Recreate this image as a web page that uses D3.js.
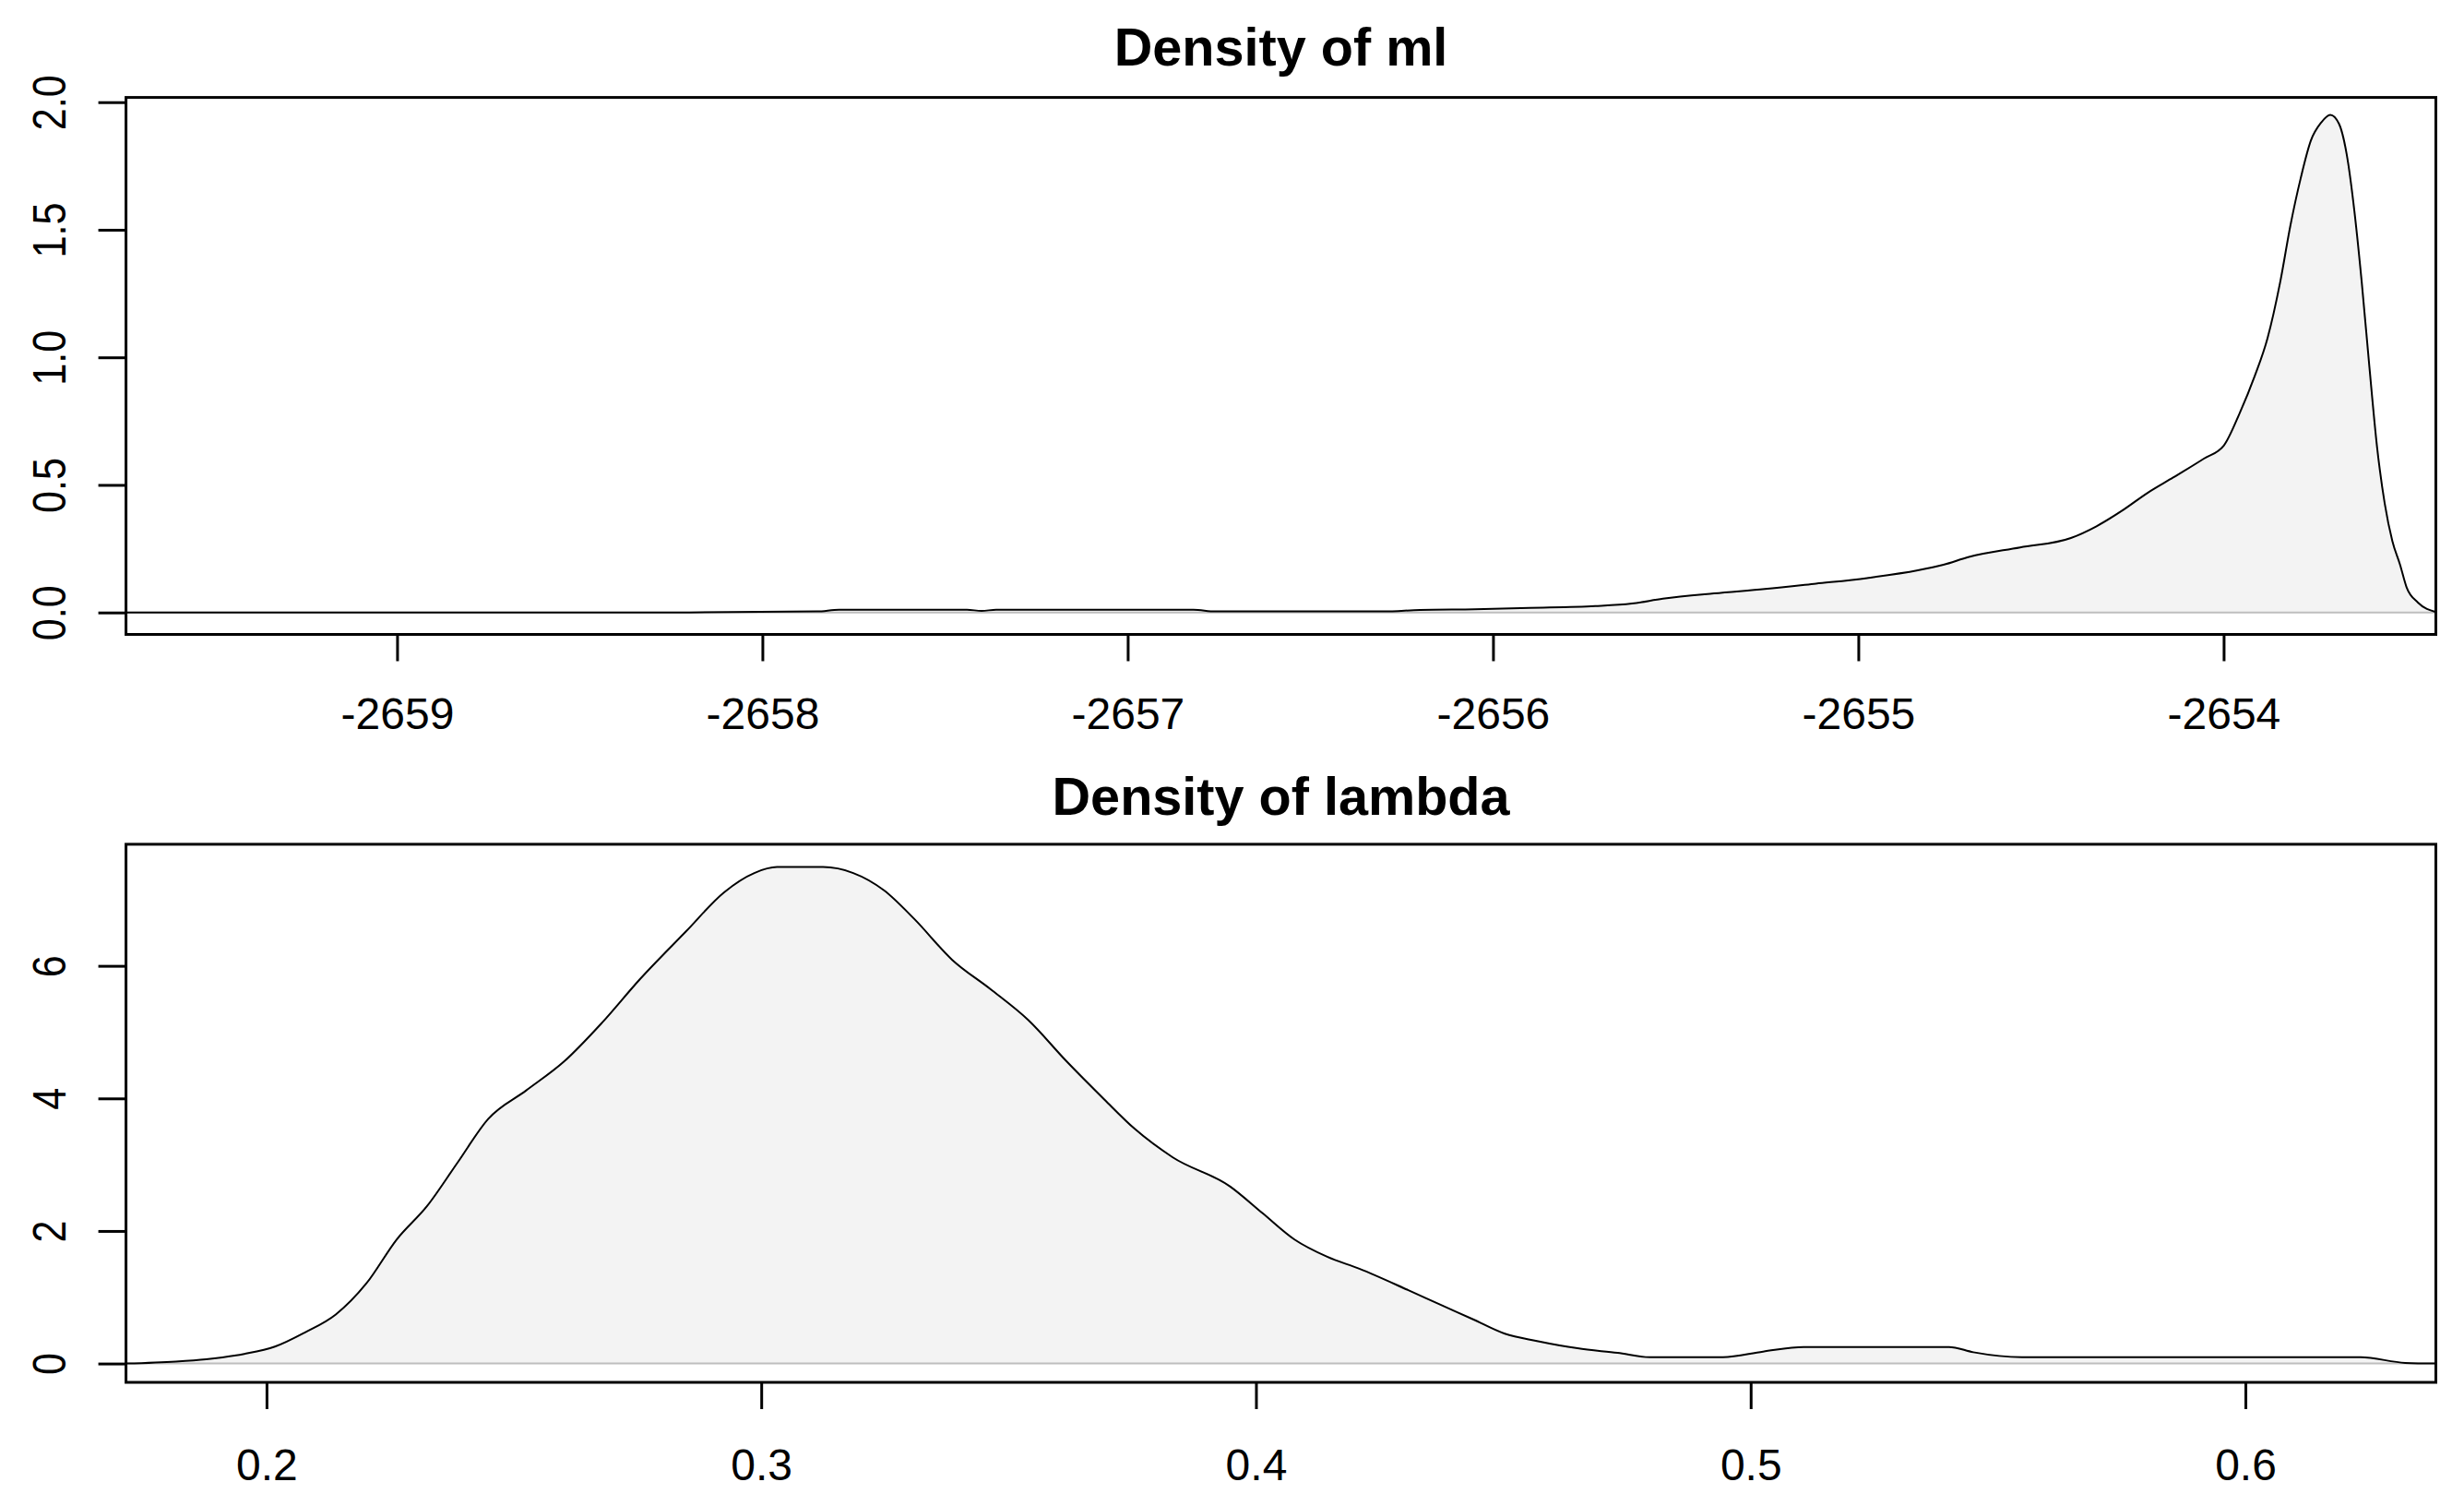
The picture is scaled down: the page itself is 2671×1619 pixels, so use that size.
<!DOCTYPE html>
<html>
<head>
<meta charset="utf-8">
<script src="https://cdn.jsdelivr.net/npm/d3@7.9.0/dist/d3.min.js"></script>
<style>
  body { margin: 0; background: #fff; }
  svg text { font-family: "Liberation Sans", Arial, sans-serif; fill: #000; }
</style>
</head>
<body>
<svg id="chart" width="2671" height="1619"></svg>
<script>
// density of ml
const mlX = [-2659.742, -2658.2, -2657.85, -2657.79, -2657.44, -2657.40, -2657.36, -2656.82, -2656.76,
  -2656.3, -2656.2, -2656.05, -2655.9, -2655.72, -2655.62, -2655.535, -2655.395, -2655.256, -2655.116,
  -2654.976, -2654.837, -2654.767, -2654.697, -2654.557, -2654.418, -2654.348, -2654.278, -2654.208,
  -2654.138, -2654.054, -2653.999, -2653.957, -2653.915, -2653.880, -2653.845, -2653.817, -2653.789,
  -2653.761, -2653.733, -2653.708, -2653.684, -2653.663, -2653.642, -2653.622, -2653.601, -2653.580,
  -2653.559, -2653.538, -2653.517, -2653.499, -2653.468, -2653.419];
const mlY = [0, 0, 0.004, 0.011, 0.011, 0.006, 0.011, 0.011, 0.004,
  0.004, 0.01, 0.013, 0.018, 0.025, 0.035, 0.054, 0.075, 0.092, 0.113,
  0.135, 0.165, 0.187, 0.218, 0.255, 0.292, 0.338, 0.399, 0.469,
  0.529, 0.603, 0.655, 0.778, 0.926, 1.074, 1.296, 1.518, 1.702,
  1.850, 1.920, 1.950, 1.915, 1.795, 1.573, 1.296, 0.963, 0.649,
  0.427, 0.279, 0.187, 0.098, 0.039, 0.002];
const mlXTicks = [-2659, -2658, -2657, -2656, -2655, -2654];
const mlYTicks = [0, 0.5, 1, 1.5, 2];

// density of lambda
const lambdaX = [0.1716, 0.1817, 0.1878, 0.1955, 0.2017, 0.2078, 0.2140, 0.2202, 0.2263, 0.2325,
  0.2386, 0.2448, 0.2525, 0.2602, 0.2678, 0.2755, 0.2848, 0.2925, 0.2986, 0.3032,
  0.3125, 0.3186, 0.3248, 0.3309, 0.3386, 0.3463, 0.3540, 0.3617, 0.3694, 0.3755,
  0.3832, 0.3948, 0.4013, 0.4078, 0.4144, 0.4209, 0.4307, 0.4372, 0.4438, 0.4503,
  0.4568, 0.4650, 0.4731, 0.4797, 0.4944, 0.5025, 0.5107, 0.5270, 0.5401, 0.5450,
  0.5548, 0.5842, 0.6233, 0.6323, 0.6385];
const lambdaY = [0, 0.03, 0.065, 0.145, 0.255, 0.47, 0.74, 1.21, 1.87, 2.38,
  3.03, 3.69, 4.12, 4.56, 5.14, 5.80, 6.52, 7.11, 7.40, 7.49,
  7.49, 7.40, 7.14, 6.71, 6.09, 5.65, 5.18, 4.56, 3.98, 3.54,
  3.11, 2.67, 2.27, 1.87, 1.61, 1.43, 1.11, 0.89, 0.67, 0.45,
  0.34, 0.23, 0.16, 0.095, 0.095, 0.18, 0.25, 0.25, 0.25, 0.17,
  0.095, 0.095, 0.095, 0.01, 0];
const lambdaXTicks = [0.2, 0.3, 0.4, 0.5, 0.6];
const lambdaYTicks = [0, 2, 4, 6];

const panels = [
  { id: 'ml', title: 'Density of ml', xs: mlX, ys: mlY, xTicks: mlXTicks, yTicks: mlYTicks,
    xDomain: [-2659.742, -2653.419], yDomain: [-0.086, 2.0185],
    xFmt: d => String(d), yFmt: d => d.toFixed(1),
    left: 136.6, right: 2640.5, top: 105.6, bottom: 687.5, titleY: 70.7, xLabY: 790 },
  { id: 'lambda', title: 'Density of lambda', xs: lambdaX, ys: lambdaY, xTicks: lambdaXTicks, yTicks: lambdaYTicks,
    xDomain: [0.1716, 0.6385], yDomain: [-0.284, 7.834],
    xFmt: d => d.toFixed(1), yFmt: d => String(d),
    left: 136.6, right: 2640.5, top: 914.9, bottom: 1498, titleY: 883, xLabY: 1604 }
];

const svg = d3.select('#chart');
svg.append('rect').attr('width', 2671).attr('height', 1619).attr('fill', '#fff');

const fontFam = '"Liberation Sans", Arial, sans-serif';

panels.forEach(p => {
  const x = d3.scaleLinear().domain(p.xDomain).range([p.left, p.right]);
  const y = d3.scaleLinear().domain(p.yDomain).range([p.bottom, p.top]);
  const pts = p.xs.map((v, i) => [v, p.ys[i]]);

  svg.append('clipPath').attr('id', 'clip-' + p.id)
    .append('rect')
    .attr('x', p.left).attr('y', p.top)
    .attr('width', p.right - p.left).attr('height', p.bottom - p.top);

  const g = svg.append('g').attr('clip-path', `url(#clip-${p.id})`);

  const area = d3.area()
    .x(d => x(d[0])).y0(y(0)).y1(d => y(d[1]))
    .curve(d3.curveMonotoneX);
  g.append('path').datum(pts).attr('d', area).attr('fill', '#f3f3f3');

  g.append('line')
    .attr('x1', p.left).attr('x2', p.right)
    .attr('y1', y(0)).attr('y2', y(0))
    .attr('stroke', '#bebebe').attr('stroke-width', 2);

  const line = d3.line().x(d => x(d[0])).y(d => y(d[1])).curve(d3.curveMonotoneX);
  g.append('path').datum(pts).attr('d', line)
    .attr('fill', 'none').attr('stroke', '#000').attr('stroke-width', 2);

  // box
  svg.append('rect')
    .attr('x', p.left).attr('y', p.top)
    .attr('width', p.right - p.left).attr('height', p.bottom - p.top)
    .attr('fill', 'none').attr('stroke', '#000').attr('stroke-width', 3);

  // x axis
  const xAxis = svg.append('g')
    .attr('transform', `translate(0,${p.bottom})`)
    .call(d3.axisBottom(x).tickValues(p.xTicks).tickFormat(p.xFmt).tickSize(29).tickSizeOuter(0));
  xAxis.select('.domain').remove();
  xAxis.selectAll('.tick line').attr('stroke', '#000').attr('stroke-width', 3);
  xAxis.selectAll('.tick text')
    .attr('y', p.xLabY - p.bottom).attr('dy', null)
    .attr('font-size', 48).attr('font-family', fontFam).attr('fill', '#000');

  // y axis
  const yAxis = svg.append('g')
    .attr('transform', `translate(${p.left},0)`)
    .call(d3.axisLeft(y).tickValues(p.yTicks).tickFormat(p.yFmt).tickSize(30).tickSizeOuter(0));
  yAxis.select('.domain').remove();
  yAxis.selectAll('.tick line').attr('stroke', '#000').attr('stroke-width', 3);
  yAxis.selectAll('.tick text')
    .attr('x', null).attr('dy', null)
    .attr('text-anchor', 'middle')
    .attr('transform', `translate(${70.7 - p.left},0) rotate(-90) scale(0.9,1.05)`)
    .attr('font-size', 48).attr('font-family', fontFam).attr('fill', '#000');

  // title
  svg.append('text')
    .attr('x', (p.left + p.right) / 2).attr('y', p.titleY)
    .attr('text-anchor', 'middle')
    .attr('font-size', 57.6).attr('font-weight', 'bold')
    .text(p.title);
});
</script>
</body>
</html>
